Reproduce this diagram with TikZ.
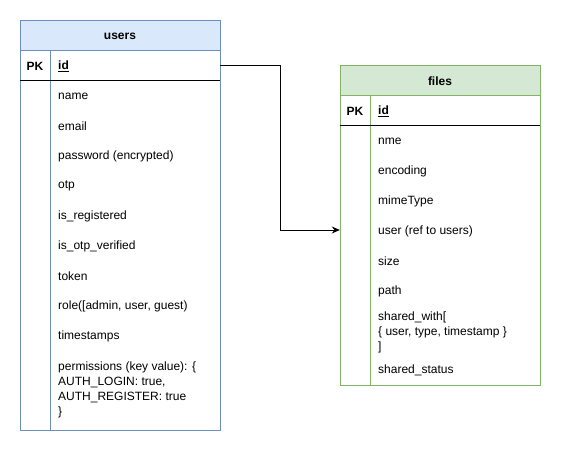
\documentclass[tikz,border=0pt]{standalone}
\usepackage{fontspec}
\setmainfont{Liberation Sans}
\usetikzlibrary{arrows.meta}
\definecolor{ufill}{HTML}{DAE8FC}
\definecolor{uline}{HTML}{6C8EBF}
\definecolor{ffill}{HTML}{D5E8D4}
\definecolor{fline}{HTML}{82B366}
\begin{document}
\begin{tikzpicture}[x=1pt,y=-1pt,
  txt/.style={anchor=west,inner sep=0pt,align=left,yshift=-1pt,font=\fontsize{12}{15}\selectfont},
  hdr/.style={inner sep=0pt,yshift=-1pt,font=\fontsize{12}{15}\selectfont\bfseries},
  rowbox/.style={draw=none,inner sep=0pt,minimum width=200pt,minimum height=30pt},
  link/.style={line width=0.9pt,-{Stealth[length=8pt,width=7pt]}}]
\useasboundingbox (0,0) rectangle (561,451);
% users table
\fill[ufill] (20,20) rectangle (220,50);
\draw[uline,line width=0.9pt] (20,20) rectangle (220,430);
\draw[uline,line width=0.9pt] (20,50) -- (220,50);
\draw[uline,line width=0.9pt] (50,50) -- (50,430);
\draw[black,line width=0.9pt] (20,80) -- (220,80);
\node[hdr] (uhead) at (120,35) {users};
\node[rowbox] (upkrow) at (120,65) {};
\node[hdr] (upk) at (35,65) {PK};
\node[txt,font=\fontsize{12}{15}\selectfont\bfseries] (uid) at (58,65) {\underline{id}};
\node[txt] (uname) at (58,95) {name};
\node[txt] (uemail) at (58,125) {email};
\node[txt] (upass) at (58,155) {password (encrypted)};
\node[txt] (uotp) at (58,185) {otp};
\node[txt] (ureg) at (58,215) {is\_registered};
\node[txt] (uver) at (58,245) {is\_otp\_verified};
\node[txt] (utok) at (58,275) {token};
\node[txt] (urole) at (58,305) {role([admin, user, guest)};
\node[txt] (uts) at (58,335) {timestamps};
\node[txt] (uperm) at (58,389) {permissions (key value): \{\\AUTH\_LOGIN: true,\\AUTH\_REGISTER: true\\\}};
% files table
\fill[ffill] (340,65) rectangle (540,95);
\draw[fline,line width=0.9pt] (340,65) rectangle (540,385);
\draw[fline,line width=0.9pt] (340,95) -- (540,95);
\draw[fline,line width=0.9pt] (370,95) -- (370,385);
\draw[black,line width=0.9pt] (340,125) -- (540,125);
\node[hdr] (fhead) at (440,80) {files};
\node[hdr] (fpk) at (355,110) {PK};
\node[txt,font=\fontsize{12}{15}\selectfont\bfseries] (fid) at (378,110) {\underline{id}};
\node[txt] (fnme) at (378,140) {nme};
\node[txt] (fenc) at (378,170) {encoding};
\node[txt] (fmime) at (378,200) {mimeType};
\node[rowbox] (fuserrow) at (440,230) {};
\node[txt] (fuser) at (378,230) {user (ref to users)};
\node[txt] (fsize) at (378,260) {size};
\node[txt] (fpath) at (378,290) {path};
\node[txt] (fshw) at (378,331) {shared\_with[\\\{ user, type, timestamp \}\\]};
\node[txt] (fshs) at (378,369) {shared\_status};
% connector
\coordinate (bend) at (280,65);
\draw[link] (upkrow.east) -- (bend) |- (fuserrow.west);
\end{tikzpicture}
\end{document}
